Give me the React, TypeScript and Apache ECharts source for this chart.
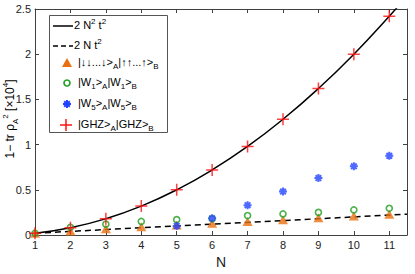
import React, { useEffect, useRef } from "react";
import * as echarts from "echarts";

const N = [1, 2, 3, 4, 5, 6, 7, 8, 9, 10, 11];
const ghz = [0.02, 0.08, 0.18, 0.32, 0.5, 0.72, 0.98, 1.28, 1.62, 2.0, 2.42];
const product = [0.02, 0.045, 0.07, 0.09, 0.11, 0.13, 0.15, 0.17, 0.19, 0.21, 0.23];
const w1 = [0.02, 0.085, 0.12, 0.15, 0.17, 0.18, 0.215, 0.233, 0.25, 0.277, 0.295];
const w5N = [5, 6, 7, 8, 9, 10, 11];
const w5 = [0.1, 0.185, 0.33, 0.48, 0.63, 0.76, 0.876];
const quadN = [1, 2, 3, 4, 5, 6, 7, 8, 9, 10, 11, 11.5];
const quadY = [0.02, 0.08, 0.18, 0.32, 0.5, 0.72, 0.98, 1.28, 1.62, 2.0, 2.42, 2.645];
const linN = [1, 11.5];
const linY = [0.02, 0.23];

const FONT = "Liberation Sans";
const AXIS_COLOR = "#404040";
const ORANGE = "#e8700f";
const GREEN = "#1e9e1e";
const BLUE = "#2244ff";
const RED = "#ff1010";

const zip = (xs: number[], ys: number[]) => xs.map((x, i) => [x, ys[i]]);

const richSmall = {
  n: { fontSize: 11, fontFamily: FONT, color: "#222", lineHeight: 16, verticalAlign: "middle" },
  sup: { fontSize: 8, fontFamily: FONT, color: "#222", lineHeight: 8, verticalAlign: "top" },
  sub: { fontSize: 8, fontFamily: FONT, color: "#222", lineHeight: 8, verticalAlign: "bottom" },
};

export default function App() {
  const ref = useRef<HTMLDivElement>(null);
  useEffect(() => {
    if (!ref.current) return;
    const chart = echarts.init(ref.current, undefined, { renderer: "svg" });
    const axisCommon = {
      type: "value" as const,
      axisLine: { show: true, onZero: false, lineStyle: { color: AXIS_COLOR, width: 1 } },
      axisTick: { show: true, inside: true, length: 4, lineStyle: { color: AXIS_COLOR } },
      splitLine: { show: false },
    };
    const legendText = (x: number, y: number, text: string) => ({
      type: "text",
      x,
      y,
      style: { text, rich: richSmall, align: "left", verticalAlign: "middle", font: `11px ${FONT}` },
    });
    chart.setOption({
      animation: false,
      grid: { left: 35, right: 8, top: 9, bottom: 35 },
      xAxis: [
        {
          ...axisCommon,
          min: 1,
          max: 11.5,
          interval: 1,
          position: "bottom",
          axisLabel: {
            fontSize: 11,
            fontFamily: FONT,
            color: "#222",
            margin: 4,
            formatter: (v: number) => (Number.isInteger(v) ? String(v) : ""),
          },
          name: "N",
          nameLocation: "middle",
          nameGap: 20,
          nameTextStyle: { fontSize: 14, fontFamily: FONT, color: "#222" },
        },
        {
          ...axisCommon,
          min: 1,
          max: 11.5,
          interval: 1,
          position: "top",
          axisLabel: { show: false },
        },
      ],
      yAxis: [
        {
          ...axisCommon,
          min: 0,
          max: 2.5,
          interval: 0.5,
          position: "left",
          axisLabel: { fontSize: 11, fontFamily: FONT, color: "#222", margin: 4 },
        },
        {
          ...axisCommon,
          min: 0,
          max: 2.5,
          interval: 0.5,
          position: "right",
          axisLabel: { show: false },
        },
      ],
      series: [
        {
          type: "line",
          data: zip(quadN, quadY),
          smooth: true,
          showSymbol: false,
          lineStyle: { color: "#000", width: 1.5 },
          z: 1,
        },
        {
          type: "line",
          data: zip(linN, linY),
          showSymbol: false,
          lineStyle: { color: "#000", width: 1.5, type: [6, 4] },
          z: 1,
        },
        {
          type: "scatter",
          data: zip(N, product),
          symbol: "triangle",
          symbolSize: [10, 9],
          itemStyle: { color: ORANGE },
          z: 2,
        },
        {
          type: "scatter",
          data: zip(N, w1),
          symbol: "circle",
          symbolSize: 6,
          itemStyle: { color: "rgba(0,0,0,0)", borderColor: GREEN, borderWidth: 1.6 },
          z: 3,
        },
        {
          type: "scatter",
          data: zip(w5N, w5),
          symbol: "path://M5,0L5,10M0,5L10,5M1.5,1.5L8.5,8.5M1.5,8.5L8.5,1.5",
          symbolSize: 8,
          itemStyle: { color: "none", borderColor: BLUE, borderWidth: 2 },
          z: 4,
        },
        {
          type: "scatter",
          data: zip(N, ghz),
          symbol: "path://M0,6L12,6M6,0L6,12",
          symbolSize: 12,
          itemStyle: { color: "none", borderColor: RED, borderWidth: 1.5 },
          z: 5,
        },
      ],
      graphic: [
        {
          type: "text",
          x: 10,
          y: 119,
          rotation: Math.PI / 2,
          style: {
            text: "{n|1− tr ρ}{sub|A}{sup|2}{n| [×10}{sup|4}{n|]}",
            align: "center",
            verticalAlign: "middle",
            font: `12px ${FONT}`,
            rich: {
              n: { fontSize: 12, fontFamily: FONT, color: "#222", lineHeight: 18, verticalAlign: "middle" },
              sup: { fontSize: 8, fontFamily: FONT, color: "#222", lineHeight: 8, verticalAlign: "top" },
              sub: { fontSize: 8, fontFamily: FONT, color: "#222", lineHeight: 8, verticalAlign: "bottom" },
            },
          },
          z: 10,
        },
        {
          type: "rect",
          shape: { x: 49.5, y: 15.5, width: 118, height: 117 },
          style: { fill: "#fff", stroke: "#555", lineWidth: 1 },
          z: 10,
        },
        { type: "line", shape: { x1: 53, y1: 26, x2: 73, y2: 26 }, style: { stroke: "#000", lineWidth: 1.5 }, z: 11 },
        {
          type: "line",
          shape: { x1: 53, y1: 46, x2: 73, y2: 46 },
          style: { stroke: "#000", lineWidth: 1.5, lineDash: [5, 3] },
          z: 11,
        },
        { type: "polygon", shape: { points: [[62, 67], [72, 67], [67, 58]] }, style: { fill: ORANGE }, z: 11 },
        { type: "circle", shape: { cx: 67, cy: 83, r: 3 }, style: { fill: "none", stroke: GREEN, lineWidth: 1.6 }, z: 11 },
        { type: "line", shape: { x1: 67, y1: 100, x2: 67, y2: 108 }, style: { stroke: BLUE, lineWidth: 2 }, z: 11 },
        { type: "line", shape: { x1: 63, y1: 104, x2: 71, y2: 104 }, style: { stroke: BLUE, lineWidth: 2 }, z: 11 },
        { type: "line", shape: { x1: 64.2, y1: 101.2, x2: 69.8, y2: 106.8 }, style: { stroke: BLUE, lineWidth: 2 }, z: 11 },
        { type: "line", shape: { x1: 64.2, y1: 106.8, x2: 69.8, y2: 101.2 }, style: { stroke: BLUE, lineWidth: 2 }, z: 11 },
        { type: "line", shape: { x1: 60, y1: 125, x2: 72, y2: 125 }, style: { stroke: RED, lineWidth: 1.5 }, z: 11 },
        { type: "line", shape: { x1: 66, y1: 119, x2: 66, y2: 131 }, style: { stroke: RED, lineWidth: 1.5 }, z: 11 },
        { ...legendText(74, 25, "{n|2 N}{sup|2}{n| t}{sup|2}"), z: 11 },
        { ...legendText(74, 45, "{n|2 N t}{sup|2}"), z: 11 },
        { ...legendText(78, 62, "{n||↓↓...↓>}{sub|A}{n||↑↑...↑>}{sub|B}"), z: 11 },
        { ...legendText(78, 82, "{n||W}{sub|1}{n|>}{sub|A}{n||W}{sub|1}{n|>}{sub|B}"), z: 11 },
        { ...legendText(78, 103, "{n||W}{sub|5}{n|>}{sub|A}{n||W}{sub|5}{n|>}{sub|B}"), z: 11 },
        { ...legendText(78, 124, "{n||GHZ>}{sub|A}{n||GHZ>}{sub|B}"), z: 11 },
      ],
    });
    return () => chart.dispose();
  }, []);
  return <div ref={ref} style={{ width: 415, height: 274, position: "absolute", left: 0, top: 0 }} />;
}
